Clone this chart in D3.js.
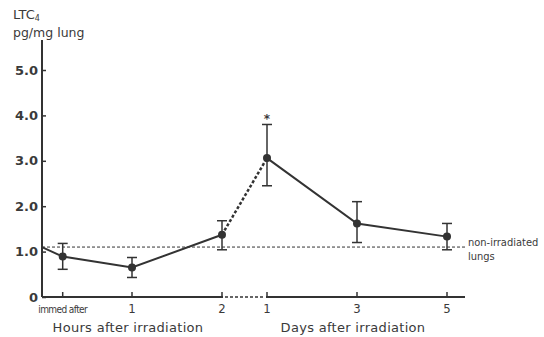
<!DOCTYPE html>
<html>
<head>
<meta charset="utf-8">
<script src="https://cdn.jsdelivr.net/npm/d3@7"></script>
<style>
 body { margin: 0; background: #fff; }
 text { font-family: "DejaVu Sans", sans-serif; fill: #3a3a3a; }
</style>
</head>
<body>
<div id="chart"></div>
<script>
 // basic dimensions
 var width = 544;
 var height = 337;

 // DATA
 // hours after irradiation ("immed after" placed just after 0)
 var hourTimes = [0.23, 1, 2];
 var hourLabels = ["immed after", "1", "2"];
 var hourMeans = [0.89, 0.65, 1.37];
 var hourHi = [1.18, 0.87, 1.68];
 var hourLo = [0.61, 0.43, 1.04];

 // days after irradiation
 var dayTimes = [1, 3, 5];
 var dayLabels = ["1", "3", "5"];
 var dayMeans = [3.06, 1.62, 1.33];
 var dayHi = [3.80, 2.10, 1.62];
 var dayLo = [2.45, 1.20, 1.04];
 var daySignif = [true, false, false];

 // non-irradiated control level
 var controlLevel = 1.1;

 var yTicks = [0, 1, 2, 3, 4, 5];

 // SCALES
 var yScale = d3.scaleLinear().domain([0, 5]).range([297, 70]);
 var hourScale = d3.scaleLinear().domain([0, 2]).range([42, 222]);
 var dayScale = d3.scaleLinear().domain([1, 5]).range([267, 447]);

 var svg = d3.select("#chart")
     .append("svg")
     .attr("width", width)
     .attr("height", height);

 // build point list across both sections
 var points = hourTimes.map(function (t, i) {
     return { x: hourScale(t), label: hourLabels[i], v: hourMeans[i], hi: hourHi[i], lo: hourLo[i], star: false };
 }).concat(dayTimes.map(function (t, i) {
     return { x: dayScale(t), label: dayLabels[i], v: dayMeans[i], hi: dayHi[i], lo: dayLo[i], star: daySignif[i] };
 }));

 var ink = "#333";

 // control dashed line
 svg.append("line")
     .attr("x1", hourScale(0)).attr("x2", 465)
     .attr("y1", yScale(controlLevel)).attr("y2", yScale(controlLevel))
     .attr("stroke", ink).attr("stroke-width", 1)
     .attr("stroke-dasharray", "3,2");

 svg.append("text").attr("x", 468).attr("y", yScale(controlLevel) - 1)
     .style("font-size", "11px").style("font-family", "DejaVu Sans Condensed, sans-serif")
     .text("non-irradiated");
 svg.append("text").attr("x", 468).attr("y", yScale(controlLevel) + 13)
     .style("font-size", "11px").style("font-family", "DejaVu Sans Condensed, sans-serif")
     .text("lungs");

 // y axis
 var yAxis = svg.append("g")
     .attr("transform", "translate(" + hourScale(0) + ",0)")
     .call(d3.axisRight(yScale)
         .tickValues(yTicks)
         .tickSize(4)
         .tickFormat(function (d) { return d === 0 ? "0" : d3.format(".1f")(d); }));
 yAxis.select(".domain").remove();
 yAxis.selectAll(".tick line").attr("stroke", ink).attr("stroke-width", 1.5);
 yAxis.selectAll(".tick text")
     .attr("x", -4).attr("text-anchor", "end")
     .style("font-size", "13px").style("font-weight", "bold")
     .style("font-family", "DejaVu Sans, sans-serif")
     .attr("fill", "#444");
 yAxis.append("line")
     .attr("y1", yScale(0)).attr("y2", 40)
     .attr("stroke", ink).attr("stroke-width", 2);

 // x axis: solid pieces and dashed break
 svg.append("line")
     .attr("x1", hourScale(0)).attr("x2", hourScale(2) + 1)
     .attr("y1", yScale(0)).attr("y2", yScale(0))
     .attr("stroke", ink).attr("stroke-width", 2);
 svg.append("line")
     .attr("x1", hourScale(2) + 3).attr("x2", dayScale(1) - 3)
     .attr("y1", yScale(0)).attr("y2", yScale(0))
     .attr("stroke", ink).attr("stroke-width", 1.5)
     .attr("stroke-dasharray", "3,2");
 svg.append("line")
     .attr("x1", dayScale(1) - 1).attr("x2", 465)
     .attr("y1", yScale(0)).attr("y2", yScale(0))
     .attr("stroke", ink).attr("stroke-width", 2);

 var xTicks = svg.selectAll(".xtick")
     .data(points)
     .enter()
     .append("g")
     .attr("class", "xtick")
     .attr("transform", function (d) { return "translate(" + d.x + "," + yScale(0) + ")"; });
 xTicks.append("line").attr("y1", 0).attr("y2", -5)
     .attr("stroke", ink).attr("stroke-width", 1.5);
 xTicks.append("text")
     .attr("y", 16)
     .attr("text-anchor", "middle")
     .style("font-family", "DejaVu Sans Condensed, sans-serif")
     .style("font-size", function (d) { return d.label.length > 2 ? "10px" : "13px"; })
     .style("letter-spacing", function (d) { return d.label.length > 2 ? "-0.6px" : "0"; })
     .text(function (d) { return d.label; });

 // axis titles
 svg.append("text").attr("x", 128).attr("y", 332).attr("text-anchor", "middle")
     .style("font-size", "13px").style("letter-spacing", "0.3px")
     .text("Hours after irradiation");
 svg.append("text").attr("x", 353).attr("y", 332).attr("text-anchor", "middle")
     .style("font-size", "13px").style("letter-spacing", "0.3px")
     .text("Days after irradiation");

 // y axis title
 var yt = svg.append("text").attr("x", 13).attr("y", 19).style("font-size", "13px");
 yt.append("tspan").text("LTC");
 yt.append("tspan").attr("dy", 2).style("font-size", "8px").text("4");
 svg.append("text").attr("x", 13).attr("y", 37).style("font-size", "12.5px").text("pg/mg lung");

 // line generator
 var lineGen = d3.line()
     .x(function (d) { return d.x; })
     .y(function (d) { return yScale(d.v); });

 var hoursLine = [{ x: hourScale(0), v: controlLevel }].concat(points.slice(0, 3));
 svg.append("path")
     .attr("d", lineGen(hoursLine))
     .attr("fill", "none").attr("stroke", ink).attr("stroke-width", 2);
 svg.append("path")
     .attr("d", lineGen(points.slice(2, 4)))
     .attr("fill", "none").attr("stroke", ink).attr("stroke-width", 2.5)
     .attr("stroke-dasharray", "3,2");
 svg.append("path")
     .attr("d", lineGen(points.slice(3)))
     .attr("fill", "none").attr("stroke", ink).attr("stroke-width", 2);

 // error bars
 var bars = svg.selectAll(".err")
     .data(points)
     .enter()
     .append("g")
     .attr("class", "err");
 bars.append("line")
     .attr("x1", function (d) { return d.x; }).attr("x2", function (d) { return d.x; })
     .attr("y1", function (d) { return yScale(d.hi); }).attr("y2", function (d) { return yScale(d.lo); })
     .attr("stroke", ink).attr("stroke-width", 1.5);
 bars.selectAll(".cap")
     .data(function (d) { return [{ x: d.x, v: d.hi }, { x: d.x, v: d.lo }]; })
     .enter()
     .append("line")
     .attr("x1", function (d) { return d.x - 5; }).attr("x2", function (d) { return d.x + 5; })
     .attr("y1", function (d) { return yScale(d.v); }).attr("y2", function (d) { return yScale(d.v); })
     .attr("stroke", ink).attr("stroke-width", 1.5);
 bars.append("circle")
     .attr("cx", function (d) { return d.x; })
     .attr("cy", function (d) { return yScale(d.v); })
     .attr("r", 4)
     .attr("fill", ink);

 // significance mark
 svg.selectAll(".star")
     .data(points.filter(function (d) { return d.star; }))
     .enter()
     .append("text")
     .attr("x", function (d) { return d.x; })
     .attr("y", function (d) { return yScale(d.hi) - 1; })
     .attr("text-anchor", "middle")
     .style("font-size", "12px").style("font-weight", "bold")
     .text("*");
</script>
</body>
</html>
